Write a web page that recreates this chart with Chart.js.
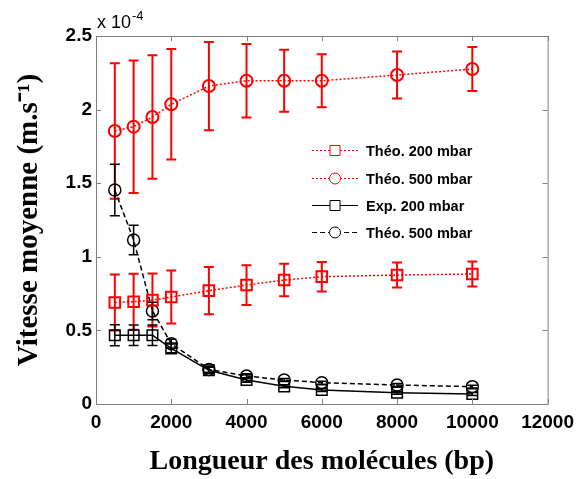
<!DOCTYPE html>
<html>
<head>
<meta charset="utf-8">
<script src="https://cdn.jsdelivr.net/npm/chart.js@4.4.0/dist/chart.umd.min.js"></script>
<style>
  html, body { margin: 0; padding: 0; background: #fff; }
  #wrap { width: 581px; height: 479px; }
</style>
</head>
<body>
<div id="wrap"><canvas id="vitesseChart" width="581" height="479"></canvas></div>
<script>
// molecule lengths (bp)
const lengths = [500, 1000, 1500, 2000, 3000, 4000, 5000, 6000, 8000, 10000];

// speeds in units of 1e-4 m/s
const theo200Red = [0.69, 0.695, 0.706, 0.727, 0.77, 0.808, 0.842, 0.865, 0.876, 0.883];
const theo200RedErr = [0.19, 0.19, 0.18, 0.18, 0.16, 0.135, 0.11, 0.10, 0.085, 0.085];
const theo500Red = [1.855, 1.884, 1.95, 2.036, 2.16, 2.196, 2.196, 2.196, 2.235, 2.276];
const theo500RedErr = [0.46, 0.45, 0.42, 0.375, 0.30, 0.25, 0.21, 0.18, 0.16, 0.15];
const exp200 = [0.467, 0.467, 0.467, 0.378, 0.229, 0.163, 0.12, 0.095, 0.077, 0.068];
const exp200Err = [0.072, 0.07, 0.07, 0.03, 0.02, 0.015, 0.01, 0.01, 0.01, 0.01];
const theo500Black = [1.454, 1.114, 0.632, 0.41, 0.235, 0.19, 0.163, 0.145, 0.129, 0.118];
const theo500BlackErr = [0.175, 0.1, 0.06, 0.03, 0.02, 0.015, 0.01, 0.01, 0.01, 0.01];

const xTicks = [0, 2000, 4000, 6000, 8000, 10000, 12000];
const yTicks = [0, 0.5, 1, 1.5, 2, 2.5];

const legendLabels = ["Théo. 200 mbar", "Théo. 500 mbar", "Exp. 200 mbar", "Théo. 500 mbar"];

function toPoints(ys) {
  return lengths.map((x, i) => ({ x: x, y: ys[i] }));
}

const RED = "#ff0000";
const axisGray = "#808080";

const datasets = [
  {
    label: legendLabels[0],
    data: toPoints(theo200Red),
    errors: theo200RedErr,
    borderColor: RED,
    borderDash: [2, 2],
    borderWidth: 1.5,
    pointStyle: "rect",
    pointRadius: 7.5,
    pointBorderWidth: 2,
    pointBackgroundColor: "rgba(0,0,0,0)",
    pointBorderColor: RED,
    errWidth: 2,
  },
  {
    label: legendLabels[1],
    data: toPoints(theo500Red),
    errors: theo500RedErr,
    borderColor: RED,
    borderDash: [2, 2],
    borderWidth: 1.5,
    pointStyle: "circle",
    pointRadius: 6,
    pointBorderWidth: 2,
    pointBackgroundColor: "rgba(0,0,0,0)",
    pointBorderColor: RED,
    errWidth: 2,
  },
  {
    label: legendLabels[2],
    data: toPoints(exp200),
    errors: exp200Err,
    borderColor: "#000",
    borderWidth: 1.5,
    pointStyle: "rect",
    pointRadius: 7.5,
    pointBorderWidth: 1.5,
    pointBackgroundColor: "rgba(0,0,0,0)",
    pointBorderColor: "#000",
    errWidth: 1.5,
  },
  {
    label: legendLabels[3],
    data: toPoints(theo500Black),
    errors: theo500BlackErr,
    borderColor: "#000",
    borderDash: [5, 3],
    borderWidth: 1.5,
    pointStyle: "circle",
    pointRadius: 6,
    pointBorderWidth: 1.5,
    pointBackgroundColor: "rgba(0,0,0,0)",
    pointBorderColor: "#000",
    errWidth: 1.5,
  },
];

// vertical error bars with caps, drawn through the scales
const errorBarPlugin = {
  id: "errorBars",
  beforeDatasetsDraw(chart) {
    const ctx = chart.ctx;
    const xs = chart.scales.x, ys = chart.scales.y;
    ctx.save();
    chart.data.datasets.forEach((ds) => {
      if (!ds.errors) return;
      ctx.strokeStyle = ds.borderColor;
      ctx.lineWidth = ds.errWidth;
      ctx.setLineDash([]);
      ds.data.forEach((p, i) => {
        const e = ds.errors[i];
        const px = xs.getPixelForValue(p.x);
        const top = ys.getPixelForValue(p.y + e);
        const bot = ys.getPixelForValue(p.y - e);
        ctx.beginPath();
        ctx.moveTo(px, top); ctx.lineTo(px, bot);
        ctx.moveTo(px - 5, top); ctx.lineTo(px + 5, top);
        ctx.moveTo(px - 5, bot); ctx.lineTo(px + 5, bot);
        ctx.stroke();
      });
    });
    ctx.restore();
  },
};

// MATLAB-like box with inward ticks, the exponent label and the legend
const framePlugin = {
  id: "frame",
  afterDraw(chart) {
    const ctx = chart.ctx;
    const a = chart.chartArea;
    const xs = chart.scales.x, ys = chart.scales.y;
    ctx.save();
    ctx.strokeStyle = axisGray;
    ctx.lineWidth = 1;
    ctx.setLineDash([]);
    ctx.strokeRect(a.left + 0.5, a.top + 0.5, a.right - a.left, a.bottom - a.top);
    ctx.beginPath();
    xTicks.forEach((v) => {
      const px = Math.round(xs.getPixelForValue(v)) + 0.5;
      ctx.moveTo(px, a.bottom); ctx.lineTo(px, a.bottom - 5);
      ctx.moveTo(px, a.top); ctx.lineTo(px, a.top + 5);
    });
    yTicks.forEach((v) => {
      const py = Math.round(ys.getPixelForValue(v)) + 0.5;
      ctx.moveTo(a.left, py); ctx.lineTo(a.left + 5, py);
      ctx.moveTo(a.right, py); ctx.lineTo(a.right - 5, py);
    });
    ctx.stroke();

    // x 10^-4
    ctx.fillStyle = "#000";
    ctx.textBaseline = "alphabetic";
    ctx.textAlign = "left";
    ctx.font = "18px 'Liberation Sans', Arial, sans-serif";
    ctx.fillText("x 10", a.left + 1, a.top - 8);
    const w = ctx.measureText("x 10").width;
    ctx.font = "13px 'Liberation Sans', Arial, sans-serif";
    ctx.fillText("-4", a.left + 2 + w, a.top - 16);

    // legend inside the axes
    const lx0 = 312, lx1 = 358, tx = 366;
    const rows = [150, 178, 205, 232];
    chart.data.datasets.forEach((ds, i) => {
      const y = rows[i] + 0.5;
      ctx.strokeStyle = ds.borderColor;
      ctx.lineWidth = 1.2;
      ctx.setLineDash(ds.borderDash || []);
      ctx.beginPath();
      ctx.moveTo(lx0, y); ctx.lineTo(lx1, y);
      ctx.stroke();
      ctx.setLineDash([]);
      ctx.lineWidth = 1;
      ctx.fillStyle = "#fff";
      const cx = (lx0 + lx1) / 2;
      ctx.beginPath();
      if (ds.pointStyle === "rect") {
        ctx.rect(cx - 5, y - 5, 10, 10);
      } else {
        ctx.arc(cx, y, 5.5, 0, Math.PI * 2);
      }
      ctx.fill();
      ctx.stroke();
      ctx.fillStyle = "#000";
      ctx.font = "bold 14.5px 'Liberation Sans', Arial, sans-serif";
      ctx.textBaseline = "middle";
      ctx.fillText(legendLabels[i], tx, y + 1);
    });
    ctx.restore();
  },
};

const config = {
  type: "line",
  data: { datasets: datasets },
  options: {
    responsive: false,
    animation: false,
    layout: { padding: { top: 36, right: 27, left: 0, bottom: 0 } },
    plugins: {
      legend: { display: false },
      tooltip: { enabled: false },
    },
    elements: { line: { tension: 0 } },
    scales: {
      x: {
        type: "linear",
        min: 0,
        max: 12000,
        afterBuildTicks: (s) => { s.ticks = xTicks.map((v) => ({ value: v })); },
        afterFit: (s) => { s.height = 75; },
        grid: { display: false, drawTicks: false },
        border: { display: false },
        ticks: {
          padding: 7,
          color: "#000",
          font: { family: "'Liberation Sans', Arial, sans-serif", size: 19, weight: "bold" },
          maxRotation: 0,
          callback: (v) => String(v),
        },
        title: {
          display: true,
          text: "Longueur des molécules (bp)",
          color: "#000",
          font: { family: "'Liberation Serif', 'Times New Roman', serif", size: 28, weight: "bold" },
          padding: { top: 4, bottom: 0 },
        },
      },
      y: {
        type: "linear",
        min: 0,
        max: 2.5,
        afterBuildTicks: (s) => { s.ticks = yTicks.map((v) => ({ value: v })); },
        afterFit: (s) => { s.width = 96; },
        grid: { display: false, drawTicks: false },
        border: { display: false },
        ticks: {
          padding: 4,
          color: "#000",
          font: { family: "'Liberation Sans', Arial, sans-serif", size: 19, weight: "bold" },
          callback: (v) => String(v),
        },
        title: {
          display: true,
          text: "Vitesse moyenne (m.s⁻¹)",
          color: "#000",
          font: { family: "'Liberation Serif', 'Times New Roman', serif", size: 29, weight: "bold" },
          padding: { top: 12, bottom: 0 },
        },
      },
    },
  },
  plugins: [errorBarPlugin, framePlugin],
};

const vitesseChart = new Chart(document.getElementById("vitesseChart"), config);
</script>
</body>
</html>
